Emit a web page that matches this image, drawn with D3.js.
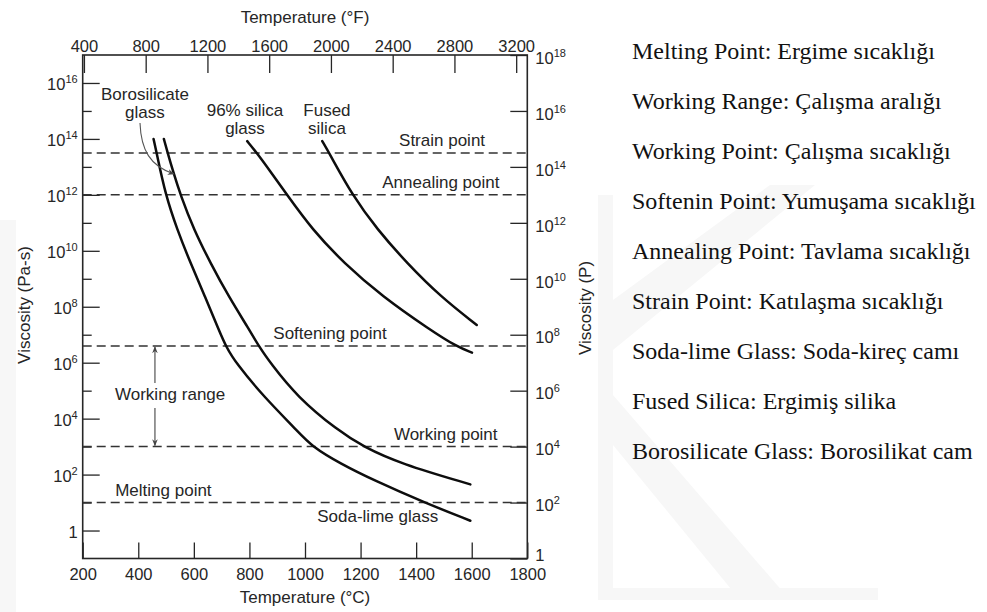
<!DOCTYPE html>
<html>
<head>
<meta charset="utf-8">
<script src="https://cdn.jsdelivr.net/npm/d3@7"></script>
<style>
  html, body { margin: 0; padding: 0; background: #fff; }
  svg { display: block; }
  .sans { font-family: "Liberation Sans", Arial, Helvetica, sans-serif; }
  .serif { font-family: "Liberation Serif", "Times New Roman", serif; }
</style>
</head>
<body>
<svg id="chart" width="987" height="612"></svg>
<script>
// ---- Data: temperature (°C) vs. log10 viscosity (Pa·s) ----
const curveNames = ["Soda-lime glass", "Borosilicate glass", "96% silica glass", "Fused silica"];
const sodaLime = [[455,14.0],[466,13.5],[498,12.0],[540,10.76],[588,9.56],[640,8.37],[690,7.17],[716,6.57],[752,5.98],[852,4.78],[970,3.59],[1025,3.0],[1128,2.39],[1247,1.80],[1430,1.0],[1595,0.35]];
const borosilicate = [[492,14.0],[506,13.5],[523,12.91],[552,11.99],[600,10.76],[660,9.56],[725,8.37],[800,7.17],[835,6.57],[876,5.98],[972,4.78],[1116,3.59],[1211,2.99],[1343,2.39],[1595,1.65]];
const silica96 = [[792,13.92],[828,13.48],[870,12.91],[936,11.99],[1026,10.76],[1140,9.56],[1278,8.37],[1451,7.17],[1547,6.57],[1601,6.36]];
const fusedSilica = [[1062,13.92],[1088,13.48],[1170,11.99],[1260,10.76],[1367,9.56],[1487,8.37],[1618,7.35]];

// Reference viscosity levels (log10 Pa·s)
const refNames = ["Strain point", "Annealing point", "Softening point", "Working point", "Melting point"];
const refLogPa = [13.5, 12, 6.6, 3, 1];

// Axis ticks
const tempCTicks = [200, 400, 600, 800, 1000, 1200, 1400, 1600, 1800];
const tempFTicks = [400, 800, 1200, 1600, 2000, 2400, 2800, 3200];
const paMajorExp = [0, 2, 4, 6, 8, 10, 12, 14, 16];
const paMinorExp = [1, 3, 5, 7, 9, 11, 13, 15];
const poiseExp = [0, 2, 4, 6, 8, 10, 12, 14, 16, 18];

// Working range (Pa·s exponents) and its marker temperature
const workingRange = [6.6, 3];
const workingRangeTemp = 460;

const glossary = [
  "Melting Point: Ergime sıcaklığı",
  "Working Range: Çalışma aralığı",
  "Working Point: Çalışma sıcaklığı",
  "Softenin Point: Yumuşama sıcaklığı",
  "Annealing Point: Tavlama sıcaklığı",
  "Strain Point: Katılaşma sıcaklığı",
  "Soda-lime Glass: Soda-kireç camı",
  "Fused Silica: Ergimiş silika",
  "Borosilicate Glass: Borosilikat cam"
];

// ---- Layout ----
const svg = d3.select("#chart");
const plot = { left: 82.7, right: 527.3, top: 55, bottom: 558.5 };
const ink = "#262626";
const fontSize = 17;

const x = d3.scaleLinear().domain([200, 1800]).range([plot.left, plot.right]);
const xF = d3.scaleLinear().domain([200 * 9 / 5 + 32, 1800 * 9 / 5 + 32]).range([plot.left, plot.right]);
const yPa = d3.scaleLog().domain([0.1, 1e17]).range([plot.bottom, plot.top]);
const yP = d3.scaleLog().domain([1, 1e18]).range([plot.bottom, plot.top]);

// faint background emblem
const wm = svg.append("g").attr("fill", "#f7f7f7");
wm.append("rect").attr("x", 0).attr("y", 220).attr("width", 16).attr("height", 392);
wm.append("rect").attr("x", 598).attr("y", 195).attr("width", 15).attr("height", 405);
wm.append("polygon").attr("points", "613,300 613,350 815,185 770,185");
wm.append("polygon").attr("points", "613,395 613,445 740,600 790,600");
wm.append("rect").attr("x", 598).attr("y", 588).attr("width", 280).attr("height", 12);

// white chart panel
svg.append("rect").attr("x", 20).attr("y", 0).attr("width", 575).attr("height", 612).attr("fill", "#fff");

const g = svg.append("g").attr("class", "sans");

function styleAxis(sel) {
  sel.select(".domain").remove();
  sel.selectAll(".tick line").attr("stroke", ink).attr("stroke-width", 1.3);
  sel.selectAll("text").attr("fill", ink).attr("font-size", 16.5)
    .attr("font-family", "Liberation Sans, Arial, sans-serif");
}

function powerLabel(sel, dy, dyOne) {
  sel.selectAll(".tick text").each(function (d) {
    const t = d3.select(this);
    const e = Math.round(Math.log10(d));
    t.text(null).attr("dy", dy);
    if (e === 0) { t.attr("dy", dyOne).append("tspan").text("1"); return; }
    t.append("tspan").text("10");
    t.append("tspan").attr("font-size", 11).attr("dy", -7).text(e);
  });
}

const intFmt = d3.format("d");

// bottom (°C)
g.append("g").attr("transform", `translate(0,${plot.bottom})`)
  .call(d3.axisBottom(x).tickValues(tempCTicks).tickFormat(intFmt)
    .tickSizeInner(-16).tickSizeOuter(0).tickPadding(10))
  .call(styleAxis);

// top (°F)
g.append("g").attr("transform", `translate(0,${plot.top})`)
  .call(d3.axisTop(xF).tickValues(tempFTicks).tickFormat(intFmt)
    .tickSizeInner(-18).tickSizeOuter(0).tickPadding(3))
  .call(styleAxis);

// left (Pa·s)
g.append("g").attr("transform", `translate(${plot.left},0)`)
  .call(d3.axisLeft(yPa).tickValues(paMajorExp.map(e => 10 ** e)).tickSizeInner(-17).tickSizeOuter(0).tickPadding(5))
  .call(styleAxis)
  .call(s => powerLabel(s, "0.4em", "0.4em"));
g.append("g").attr("transform", `translate(${plot.left},0)`)
  .call(d3.axisLeft(yPa).tickValues(paMinorExp.map(e => 10 ** e)).tickSizeInner(-9).tickSizeOuter(0).tickFormat(() => ""))
  .call(styleAxis);

// right (P)
g.append("g").attr("transform", `translate(${plot.right},0)`)
  .call(d3.axisRight(yP).tickValues(poiseExp.map(e => 10 ** e)).tickSizeInner(-17).tickSizeOuter(0).tickPadding(8))
  .call(styleAxis)
  .call(s => powerLabel(s, "0.5em", "0.1em"));

// frame
g.append("rect")
  .attr("x", plot.left).attr("y", plot.top)
  .attr("width", plot.right - plot.left).attr("height", plot.bottom - plot.top)
  .attr("fill", "none").attr("stroke", ink).attr("stroke-width", 1.6);

// axis titles
g.append("text").attr("x", (plot.left + plot.right) / 2).attr("y", 23)
  .attr("text-anchor", "middle").attr("font-size", fontSize).attr("fill", ink).text("Temperature (°F)");
g.append("text").attr("x", (plot.left + plot.right) / 2).attr("y", 603)
  .attr("text-anchor", "middle").attr("font-size", fontSize).attr("fill", ink).text("Temperature (°C)");
g.append("text").attr("transform", "translate(30,305) rotate(-90)")
  .attr("text-anchor", "middle").attr("font-size", fontSize).attr("fill", ink).text("Viscosity (Pa-s)");
g.append("text").attr("transform", "translate(591,308) rotate(-90)")
  .attr("text-anchor", "middle").attr("font-size", fontSize).attr("fill", ink).text("Viscosity (P)");

// reference dashed lines
g.append("g").selectAll("line").data(refLogPa).join("line")
  .attr("x1", plot.left).attr("x2", plot.right)
  .attr("y1", d => yPa(10 ** d)).attr("y2", d => yPa(10 ** d))
  .attr("stroke", "#333").attr("stroke-width", 1.5).attr("stroke-dasharray", "9,5");

// reference labels: [anchor temperature °C, text-anchor]
const refPlace = [[1648, "end"], [1700, "end"], [886, "start"], [1693, "end"], [317, "start"]];
g.append("g").selectAll("text").data(refNames).join("text")
  .attr("x", (d, i) => x(refPlace[i][0]))
  .attr("y", (d, i) => yPa(10 ** refLogPa[i]) - 7)
  .attr("text-anchor", (d, i) => refPlace[i][1])
  .attr("font-size", fontSize).attr("fill", ink).text(d => d);

// curves
const line = d3.line().x(d => x(d[0])).y(d => yPa(10 ** d[1])).curve(d3.curveBasis);
g.append("g").selectAll("path").data([sodaLime, borosilicate, silica96, fusedSilica]).join("path")
  .attr("d", line).attr("fill", "none").attr("stroke", "#0d0d0d")
  .attr("stroke-width", 2.5).attr("stroke-linecap", "round");

// curve labels
const curveLabel = (lines, cx, y0) => {
  lines.forEach((s, i) => {
    g.append("text").attr("x", x(cx)).attr("y", y0 + i * 17.5)
      .attr("text-anchor", "middle").attr("font-size", fontSize).attr("fill", ink).text(s);
  });
};
curveLabel(["Borosilicate", "glass"], 424, 100);
curveLabel(["96% silica", "glass"], 784, 116);
curveLabel(["Fused", "silica"], 1079, 116);
g.append("text").attr("x", x(1044)).attr("y", yPa(10 ** sodaLime[sodaLime.length - 1][1]) + 1)
  .attr("font-size", fontSize).attr("fill", ink).text(curveNames[0]);

// arrowheads
const defs = svg.append("defs");
defs.append("marker").attr("id", "head").attr("viewBox", "0 0 10 10")
  .attr("refX", 9).attr("refY", 5).attr("markerWidth", 7).attr("markerHeight", 7)
  .attr("orient", "auto-start-reverse").attr("markerUnits", "userSpaceOnUse")
  .append("path").attr("d", "M0,1 L10,5 L0,9 L3,5 z").attr("fill", "#444");

// pointer from the borosilicate label to its curve
g.append("path").attr("d", "M140,123 C141,150 150,166 174,174")
  .attr("fill", "none").attr("stroke", "#555").attr("stroke-width", 1.1)
  .attr("marker-end", "url(#head)");

// working range marker
const wx = x(workingRangeTemp);
g.append("line").attr("x1", wx).attr("x2", wx)
  .attr("y1", 383).attr("y2", yPa(10 ** workingRange[0]) + 1)
  .attr("stroke", "#444").attr("stroke-width", 1.1).attr("marker-end", "url(#head)");
g.append("line").attr("x1", wx).attr("x2", wx)
  .attr("y1", 408).attr("y2", yPa(10 ** workingRange[1]) - 1)
  .attr("stroke", "#444").attr("stroke-width", 1.1).attr("marker-end", "url(#head)");
g.append("text").attr("x", 115).attr("y", 400)
  .attr("font-size", fontSize).attr("fill", ink).text("Working range");

// glossary
svg.append("g").attr("class", "serif").selectAll("text").data(glossary).join("text")
  .attr("x", 632).attr("y", (d, i) => 59 + i * 50)
  .attr("font-size", 24).attr("fill", "#111").text(d => d);
</script>
</body>
</html>
